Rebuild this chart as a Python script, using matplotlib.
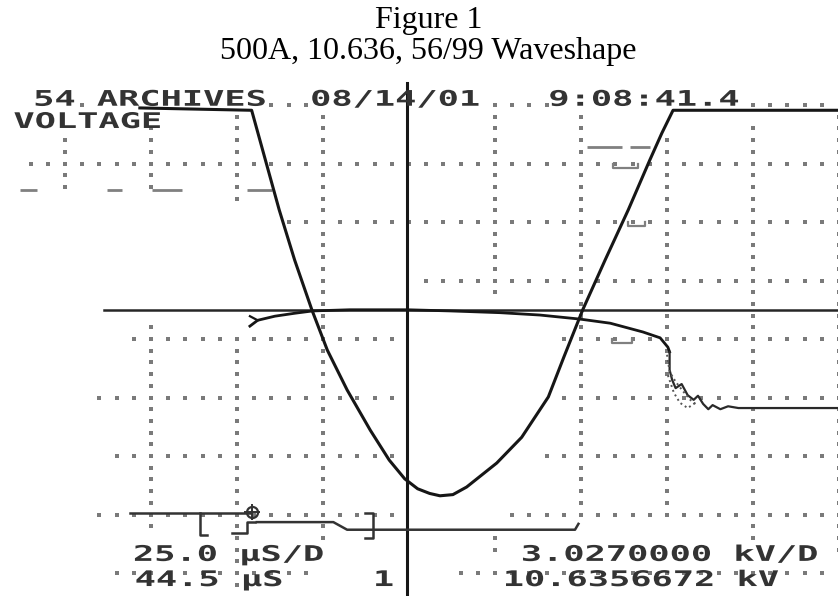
import matplotlib
matplotlib.use("Agg")
import numpy as np
import matplotlib.pyplot as plt
from matplotlib import patheffects
from matplotlib.transforms import Affine2D

# screen units are graticule divisions (25.0 uS/D across, 3.027 kV/D up),
# origin on the lower-left graticule line
wave_x = [0.87, 2.17, 2.33, 2.49, 2.67, 2.87, 3.05, 3.28, 3.55, 3.77, 3.95, 4.10, 4.24, 4.36, 4.51,
          4.67, 5.02, 5.31, 5.62, 5.80, 6.02, 6.28, 6.55, 6.80, 6.94, 7.07, 8.99]
wave_y = [7.95, 7.91, 7.06, 6.21, 5.35, 4.50, 3.81, 3.13, 2.44, 1.93, 1.61, 1.44, 1.36, 1.32, 1.34,
          1.47, 1.88, 2.32, 3.01, 3.69, 4.50, 5.35, 6.21, 7.06, 7.52, 7.91, 7.91]

droop_x = [2.15, 2.24, 2.44, 2.67, 2.88, 3.31, 3.98, 4.48, 5.06, 5.52, 5.99, 6.34, 6.72, 6.92, 7.01, 7.03]
droop_y = [4.22, 4.32, 4.39, 4.44, 4.48, 4.50, 4.50, 4.48, 4.45, 4.41, 4.34, 4.27, 4.12, 4.02, 3.86, 3.78]
hook_x = [2.15, 2.24]
hook_y = [4.39, 4.32]

ring_x = [7.03, 7.03, 7.06, 7.10, 7.17, 7.24, 7.31, 7.36, 7.42, 7.48, 7.53, 7.62, 7.71, 7.83, 8.99]
ring_y = [3.78, 3.47, 3.30, 3.16, 3.23, 3.04, 2.96, 3.03, 2.89, 2.80, 2.87, 2.80, 2.85, 2.82, 2.82]
ghost_ring = [([7.00, 7.03, 7.10, 7.19, 7.27, 7.35], [3.73, 3.44, 3.27, 3.10, 2.96, 2.87]),
              ([7.01, 7.08, 7.15, 7.24, 7.34], [3.38, 3.08, 2.91, 2.82, 2.92])]

cursor_t = 3.98
cursor_v = 4.50

# lower trace with its brackets
lower_traces = [([0.76, 2.15], [1.03, 1.03]),
                ([1.57, 1.57, 1.65], [1.03, 0.65, 0.65]),
                ([1.94, 2.12, 2.12, 2.21], [0.68, 0.68, 0.87, 0.87]),
                ([2.23, 3.12, 3.28, 5.93, 5.97], [0.87, 0.87, 0.74, 0.74, 0.84]),
                ([3.49, 3.58, 3.58, 3.49], [1.03, 1.03, 0.60, 0.60])]
trig_mark = (2.17, 1.04)

# leftover marks from earlier screens
ghost_dashes = [(-0.52, -0.33, 6.55), (0.49, 0.66, 6.55), (1.01, 1.36, 6.55), (2.12, 2.41, 6.55),
                (6.07, 6.48, 7.28), (6.57, 6.80, 7.28)]
ghost_cups = [(6.37, 6.66, 6.92), (6.55, 6.74, 5.93), (6.36, 6.59, 3.93)]

# dotted graticule: where the dots survive in the scan
row_spans = {0: [(0.55, 2.98), (4.53, 8.81)], 1: [(0.30, 3.85), (5.15, 8.99)],
             2: [(0.55, 3.85), (5.52, 8.99)], 3: [(0.36, 3.85), (5.76, 8.99)],
             4: [(0.73, 3.85), (5.77, 8.99)], 5: [(4.13, 8.99)], 6: [(2.53, 8.99)],
             7: [(-0.41, 8.99)], 8: [(0.10, 0.37), (2.35, 2.85), (4.86, 5.62), (7.85, 8.99)]}
col_spans = {0: [(6.46, 7.52)], 1: [(6.46, 7.66), (0.65, 4.27)], 2: [(6.38, 7.83), (-0.29, 4.10)],
             3: [(0.56, 7.83)], 5: [(4.67, 7.83), (0.31, 0.74)], 6: [(1.16, 7.83)],
             7: [(1.08, 7.57)], 8: [(0.56, 7.66)], 9: [(0.22, 7.83)]}

header_words = [("54", -0.37), ("ARCHIVES", 0.37), ("08/14/01", 2.85), ("9:08:41.4", 5.62)]
bottom_text = [("25.0 μS/D", 0.79, 0.31), ("44.5 μS", 0.81, -0.12), ("1", 3.58, -0.12),
               ("3.0270000 kV/D", 5.30, 0.31), ("10.6356672 kV", 5.09, -0.12)]


class Stretch(patheffects.AbstractPathEffect):
    """widen glyphs like the scope's printer font"""
    def __init__(self, sx):
        super().__init__()
        self.sx = sx

    def draw_path(self, renderer, gc, tpath, affine, rgbFace=None):
        renderer.draw_path(gc, tpath, Affine2D().scale(self.sx, 1.0) + affine, rgbFace)


INK = "#161616"
DOT = "#7a7a7a"
GHOST = "#808080"
TXT = "#333333"

fig = plt.figure(figsize=(8.38, 5.96), dpi=100)
ax = fig.add_axes([0, 0, 1, 1])
ax.set_xlim(-0.756, 8.988)
ax.set_ylim(-0.393, 9.795)
ax.axis("off")

# graticule dots
for r, spans in row_spans.items():
    for a, b in spans:
        xs = np.arange(-0.8, 9.01, 0.2)
        xs = xs[(xs >= a - 1e-6) & (xs <= b + 1e-6)]
        ax.plot(xs, np.full(len(xs), r), ls="none", marker="s", ms=2.2, color=DOT, mew=0, zorder=1)
for c, spans in col_spans.items():
    for a, b in spans:
        ys = np.arange(-0.4, 8.01, 0.2)
        ys = ys[(ys >= a - 1e-6) & (ys <= b + 1e-6)]
        ax.plot(np.full(len(ys), c), ys, ls="none", marker="s", ms=2.2, color=DOT, mew=0, zorder=1)

for x0, x1, y in ghost_dashes:
    ax.plot([x0, x1], [y, y], color=GHOST, lw=2.0, solid_capstyle="butt", zorder=2)
for x0, x1, y in ghost_cups:
    ax.plot([x0, x0, x1, x1], [y + 0.07, y, y, y + 0.07], color=GHOST, lw=1.6, zorder=2)

# cursors
ax.plot([0.45, 8.99], [cursor_v, cursor_v], color="#262626", lw=1.8, zorder=3)
ax.plot([cursor_t, cursor_t], [-0.4, 8.38], color=INK, lw=2.2, zorder=3)

# traces
ax.plot(wave_x, wave_y, color=INK, lw=2.2, solid_joinstyle="round", zorder=4)
ax.plot(droop_x, droop_y, color=INK, lw=2.0, solid_joinstyle="round", zorder=4)
ax.plot(hook_x, hook_y, color=INK, lw=1.6, zorder=4)
ax.plot(ring_x, ring_y, color="#2a2a2a", lw=1.6, zorder=4)
for gx, gy in ghost_ring:
    ax.plot(gx, gy, color="#555555", lw=1.4, ls=":", zorder=4)

for tx, ty in lower_traces:
    ax.plot(tx, ty, color="#333333", lw=1.8, zorder=4)
ax.plot(*trig_mark, marker="o", ms=8, mfc="none", mec="#333333", mew=1.6, zorder=5)
ax.plot(*trig_mark, marker="+", ms=11, mec="#333333", mew=1.4, zorder=5)

# scope printout text
mono = dict(family="DejaVu Sans Mono", weight="bold", size=15.5, color=TXT,
            ha="left", va="center", path_effects=[Stretch(1.64)], zorder=6)
for word, x in header_words:
    ax.text(x, 8.09, word, **mono)
ax.text(-0.60, 7.71, "VOLTAGE", **mono)
for s, x, y in bottom_text:
    ax.text(x, y, s, **mono)

fig.text(0.511, 1 - 28 / 596, "Figure 1", family=["Liberation Serif", "DejaVu Serif"],
         size=23, ha="center", va="baseline")
fig.text(0.511, 1 - 59 / 596, "500A, 10.636, 56/99 Waveshape", family=["Liberation Serif", "DejaVu Serif"],
         size=23, ha="center", va="baseline")

fig.savefig("out.png", dpi=100)
